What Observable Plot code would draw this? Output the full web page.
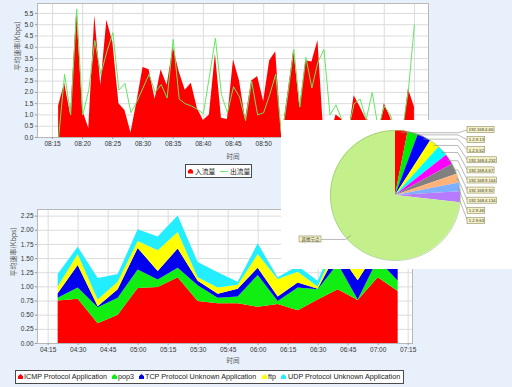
<!DOCTYPE html>
<html lang="zh">
<head>
<meta charset="utf-8">
<script src="https://cdn.jsdelivr.net/npm/d3@7"></script>
<script src="https://cdn.jsdelivr.net/npm/@observablehq/plot@0.6"></script>
<style>
html,body{margin:0;padding:0;background:#e8f1fb;}
#root{position:relative;width:512px;height:387px;overflow:hidden;background:#e8f1fb;font-family:"Liberation Sans",Arial,sans-serif;color:#222;}
#root svg{position:absolute;overflow:visible;}
.box{position:absolute;background:#fff;border:1px solid #4a4a4a;box-sizing:border-box;}
.lg{position:absolute;white-space:nowrap;line-height:1;color:#222;}
.mk{position:absolute;width:5px;height:5px;clip-path:polygon(50% 0,100% 45%,100% 100%,0 100%,0 45%);}
#panel{position:absolute;left:281px;top:120px;width:231px;height:149px;background:#fff;}
</style>
</head>
<body>
<div id="root"></div>
<script>
// ---------- top chart: 入流量 / 出流量 (per minute) ----------
const flowTimes = ["08:16","08:17","08:18","08:19","08:20","08:21","08:22","08:23","08:24","08:25",
  "08:26","08:27","08:28","08:29","08:30","08:31","08:32","08:33","08:34","08:35",
  "08:36","08:37","08:38","08:39","08:40","08:41","08:42","08:43","08:44","08:45",
  "08:46","08:47","08:48","08:49","08:50","08:51","08:52","08:53","08:54","08:55",
  "08:56","08:57","08:58","08:59","09:00","09:01","09:02","09:03","09:04","09:05",
  "09:06","09:07","09:08","09:09","09:10","09:11","09:12","09:13","09:14","09:15"];
const inbound = [1.4,2.4,1.0,5.6,1.2,0.4,5.4,2.3,5.2,4.2,
  1.5,1.2,0.2,1.6,3.1,3.0,1.7,3.0,2.3,4.0,
  2.9,2.1,2.4,1.3,0.75,1.0,3.7,0.85,0.8,3.45,
  2.5,0.8,2.5,2.7,1.6,3.4,3.8,0,1.9,3.9,
  1.35,3.4,3.35,4.3,0,0,1.0,0.8,0,1.85,
  1.35,0.8,0.7,0,1.5,0.9,0,0,2.15,1.35];
const outbound = [0,2.8,1.0,5.7,1.0,2.1,4.3,2.8,3.8,4.65,
  2.1,2.4,1.1,1.6,2.2,2.8,2.0,2.35,1.75,4.35,
  1.7,1.5,1.4,1.25,1.05,2.7,4.4,1.9,1.1,2.25,
  1.8,0.75,2.5,1.0,1.1,1.9,2.8,0,1.9,3.9,
  1.35,3.55,2.2,3.35,3.9,1.0,1.45,0.75,0.3,1.5,
  1.7,0.8,2.0,0.4,1.4,1.0,0.2,0.3,2.1,5.0];
const topXTicks = ["08:15","08:20","08:25","08:30","08:35","08:40","08:45","08:50","08:55","09:00","09:05","09:10","09:15"];
const topYTicks = [0,0.5,1,1.5,2,2.5,3,3.5,4,4.5,5,5.5];
const topLegend = ["入流量","出流量"];

// ---------- bottom chart: applications (every 10 minutes) ----------
const appTimes = ["04:20","04:30","04:40","04:50","05:00","05:10","05:20","05:30","05:40",
  "05:50","06:00","06:10","06:20","06:30","06:40","06:50","07:00","07:10"];
const appNames = ["ICMP Protocol Application","pop3","TCP Protocol Unknown Application","ftp","UDP Protocol Unknown Application"];
const appColors = ["#ff0000","#11ee11","#0000ee","#ffff00","#22eeff"];
const icmpRate = [0.75,0.78,0.35,0.50,0.97,0.99,1.16,0.74,0.70,0.70,0.64,0.69,0.58,0.77,0.95,0.76,1.16,0.92];
const pop3Rate = [0.05,0.20,0.28,0.30,0.33,0.13,0.17,0.28,0.10,0.12,0.56,0.05,0.40,0.18,0.45,0.01,0.32,0.18];
const tcpRate  = [0.08,0.40,0.02,0.15,0.38,0.15,0.34,0.08,0.07,0.14,0.13,0.08,0.09,0.01,0.22,0.34,0.18,0.23];
const ftpRate  = [0.12,0.19,0.12,0.13,0.12,0.37,0.29,0.06,0.11,0.07,0.24,0.31,0.19,0.04,0.16,0.25,0.14,0.17];
const udpRate  = [0.22,0.13,0.38,0.14,0.21,0.24,0.29,0.27,0.27,0.05,0.19,0.03,0.10,0.10,0.12,0.10,0.12,0.12];
const bottomXTicks = ["04:15","04:30","04:45","05:00","05:15","05:30","05:45","06:00","06:15","06:30","06:45","07:00","07:15"];
const bottomYTicks = [0,0.25,0.5,0.75,1,1.25,1.5,1.75,2,2.25];

// ---------- pie: nodes ----------
const pieLabels = ["192.168.4.66","1.2.9.13","1.2.5.52","192.168.4.232","192.168.4.67","192.168.9.164","192.168.9.92","192.168.4.134","1.2.9.46","1.2.9.63","其他节点"];
const pieValues = [3.1,2.6,3.4,2.6,2.7,2.6,2.7,2.2,2.2,2.7,73.2];
const pieColors = ["#ff0000","#00ee00","#0000ff","#ffff00","#00ffff","#ff00ff","#808080","#ffb27a","#7fb0ff","#b77bff","#c3f08a"];

const yLabel = "平均速率(Kbps)";
const xLabel = "时间";

// ---------- build ----------
const root = document.getElementById("root");
const T = d3.utcParse("%H:%M");
const FONT = "Liberation Sans, Arial, sans-serif";
const CJK = "Noto Sans CJK SC, sans-serif";
const addAt = (node, left, top, parent = root) => { node.style.left = left + "px"; node.style.top = top + "px"; parent.appendChild(node); return node; };

// top chart
const topRows = flowTimes.map((t, i) => ({time: T(t), inflow: inbound[i], outflow: outbound[i]}));
const topPlot = Plot.plot({
  width: 440, height: 162,
  marginLeft: 37, marginRight: 12, marginTop: 3, marginBottom: 25,
  style: {background: "transparent", fontFamily: FONT, fontSize: "6.5px", color: "#333"},
  x: {type: "utc", domain: [new Date(+T("08:12") + 30e3), new Date(+T("09:17") + 20e3)]},
  y: {domain: [0, 5.94]},
  marks: [
    Plot.frame({fill: "#fff", stroke: null}),
    Plot.gridX(topXTicks.map(T), {stroke: "#dcdcdc", strokeOpacity: 1}),
    Plot.gridY(topYTicks, {stroke: "#dcdcdc", strokeOpacity: 1}),
    Plot.areaY(topRows, {x: "time", y: "inflow", fill: "#ff0000"}),
    Plot.lineY(topRows, {x: "time", y: "outflow", stroke: "#62e862", strokeWidth: 1}),
    Plot.frame({stroke: "#b8b8b8"}),
    Plot.axisX(topXTicks.map(T), {tickFormat: d3.utcFormat("%H:%M"), tickSize: 2, tickPadding: 2, label: null, stroke: "#999"}),
    Plot.axisY(topYTicks, {tickFormat: d3.format(".1f"), tickSize: 2, tickPadding: 2, label: null, stroke: "#999"}),
    Plot.text([xLabel], {text: d => d, frameAnchor: "bottom", dy: 21.5, fontSize: 6.5, fontFamily: CJK, fill: "#555"}),
    Plot.text([yLabel], {text: d => d, frameAnchor: "left", dx: -20, rotate: -90, fontSize: 7, fontFamily: CJK, fill: "#555"})
  ]
});
addAt(topPlot, 0, 0);

// bottom chart
const appSeries = [icmpRate, pop3Rate, tcpRate, ftpRate, udpRate];
const bottomRows = [];
appTimes.forEach((t, i) => appNames.forEach((name, j) => bottomRows.push({time: T(t), app: name, rate: appSeries[j][i]})));
const bottomPlot = Plot.plot({
  width: 440, height: 170,
  marginLeft: 37, marginRight: 28, marginTop: 14, marginBottom: 22,
  style: {background: "transparent", fontFamily: FONT, fontSize: "6.5px", color: "#333"},
  x: {type: "utc", domain: [new Date(+T("04:09") + 40e3), new Date(+T("07:17") + 10e3)]},
  y: {domain: [0, 2.367]},
  color: {domain: appNames, range: appColors},
  marks: [
    Plot.frame({fill: "#fff", stroke: null}),
    Plot.gridX(bottomXTicks.map(T), {stroke: "#dcdcdc", strokeOpacity: 1}),
    Plot.gridY(bottomYTicks, {stroke: "#dcdcdc", strokeOpacity: 1}),
    Plot.areaY(bottomRows, {x: "time", y: "rate", z: "app", fill: "app"}),
    Plot.frame({stroke: "#b8b8b8"}),
    Plot.axisX(bottomXTicks.map(T), {tickFormat: d3.utcFormat("%H:%M"), tickSize: 2, tickPadding: 2, label: null, stroke: "#999"}),
    Plot.axisY(bottomYTicks, {tickFormat: d3.format(".2f"), tickSize: 2, tickPadding: 2, label: null, stroke: "#999"}),
    Plot.text([xLabel], {text: d => d, frameAnchor: "bottom", dy: 19.5, dx: 8, fontSize: 6.5, fontFamily: CJK, fill: "#555"}),
    Plot.text([yLabel], {text: d => d, frameAnchor: "left", dx: -23.5, rotate: -90, fontSize: 7, fontFamily: CJK, fill: "#555"})
  ]
});
addAt(bottomPlot, 0, 195);

// legends (HTML)
function box(l, t, w, h) { const d = document.createElement("div"); d.className = "box"; d.style.width = w + "px"; d.style.height = h + "px"; return addAt(d, l, t); }
function label(txt, l, cy, size, fam) { const s = document.createElement("div"); s.className = "lg"; s.textContent = txt; s.style.fontSize = size + "px"; s.style.fontFamily = fam; return addAt(s, l, cy - size / 2); }
function marker(color, l, t) { const m = document.createElement("div"); m.className = "mk"; m.style.background = color; return addAt(m, l, t); }

box(185, 164, 67, 14);
marker("#ff0000", 188, 168.5);
label(topLegend[0], 195, 171, 6.8, CJK);
const ln = document.createElement("div"); ln.style.cssText = "position:absolute;width:8px;height:1.2px;background:#62e862"; addAt(ln, 220, 170.5);
label(topLegend[1], 230, 171, 6.8, CJK);

box(15, 370, 389, 14);
const mkX = [18, 112, 139, 262, 281], txX = [24, 118, 145, 268, 288];
appNames.forEach((n, i) => { marker(appColors[i], mkX[i], 374); label(n, txX[i], 377, 7.2, FONT); });

// pie panel
const panel = document.createElement("div"); panel.id = "panel"; root.appendChild(panel);
const U = 65; // px per unit radius
const arcs = d3.pie().sort(null).value(d => d)(pieValues);
const slicePts = [];
arcs.forEach((a, i) => {
  const n = Math.max(2, Math.ceil((a.endAngle - a.startAngle) / 0.02));
  for (let k = 0; k <= n; k++) {
    const ang = a.startAngle + (a.endAngle - a.startAngle) * k / n;
    slicePts.push({slice: pieLabels[i], color: pieColors[i], cx: 0, cy: 0, x: Math.sin(ang), y: -Math.cos(ang)});
  }
});
const rim = d3.range(0, 361, 2).map(d => ({x: Math.sin(d * Math.PI / 180), y: -Math.cos(d * Math.PI / 180)}));

const ctx = document.createElement("canvas").getContext("2d");
const measure = (txt, size, fam) => { ctx.font = `${size}px ${fam}`; return ctx.measureText(txt).width; };

const links = [], boxes = [], texts = [];
arcs.forEach((a, i) => {
  const mid = (a.startAngle + a.endAngle) / 2;
  const sx = Math.sin(mid), sy = -Math.cos(mid);
  if (i < arcs.length - 1) {
    const ly = -1.008 + 0.1554 * i, lx = 1.108;
    const ax = 0.97 * sx, ay = 0.97 * sy;
    const ex = Math.max(ax, 0.96);
    [[ax, ay], [ex, ay], [lx, ly]].forEach(([x, y]) => links.push({id: i, x, y}));
    const w = (measure(pieLabels[i], 4.2, FONT) + 2.6) / U;
    boxes.push({x1: lx, x2: lx + w, y1: ly - 3 / U, y2: ly + 3 / U});
    texts.push({x: lx + 1.3 / U, y: ly, t: pieLabels[i], fam: FONT});
  } else {
    const ax = 0.925 * sx, ay = 0.925 * sy;
    const ly = ay + 0.06, rx = -1.138;
    [[ax, ay], [ax - 0.08, ly], [rx, ly]].forEach(([x, y]) => links.push({id: i, x, y}));
    const w = (measure(pieLabels[i], 4.5, CJK) + 4) / U;
    boxes.push({x1: rx - w, x2: rx, y1: ly - 3 / U, y2: ly + 3 / U});
    texts.push({x: rx - w + 2 / U, y: ly, t: pieLabels[i], fam: CJK});
  }
});

const piePlot = Plot.plot({
  width: 231, height: 149, margin: 0,
  style: {background: "transparent"},
  x: {domain: [-1, 1], range: [49, 179], axis: null},
  y: {domain: [-1, 1], range: [10, 140], axis: null},
  marks: [
    Plot.area(slicePts, {x1: "cx", y1: "cy", x2: "x", y2: "y", z: "slice", fill: "color"}),
    Plot.line(rim, {x: "x", y: "y", stroke: "#9cc67c", strokeWidth: 0.7}),
    Plot.line(links, {x: "x", y: "y", z: "id", stroke: "#8a8a8a", strokeWidth: 0.6}),
    Plot.rect(boxes, {x1: "x1", x2: "x2", y1: "y1", y2: "y2", fill: "#f5f1c4", stroke: "#8f8c66", strokeWidth: 0.6}),
    Plot.text(texts.filter(d => d.fam === FONT), {x: "x", y: "y", text: "t", textAnchor: "start", fontSize: 4.2, fontFamily: FONT, fill: "#333"}),
    Plot.text(texts.filter(d => d.fam === CJK), {x: "x", y: "y", text: "t", textAnchor: "start", fontSize: 4.5, fontFamily: CJK, fill: "#333"})
  ]
});
addAt(piePlot, 0, 0, panel);
</script>
</body>
</html>
